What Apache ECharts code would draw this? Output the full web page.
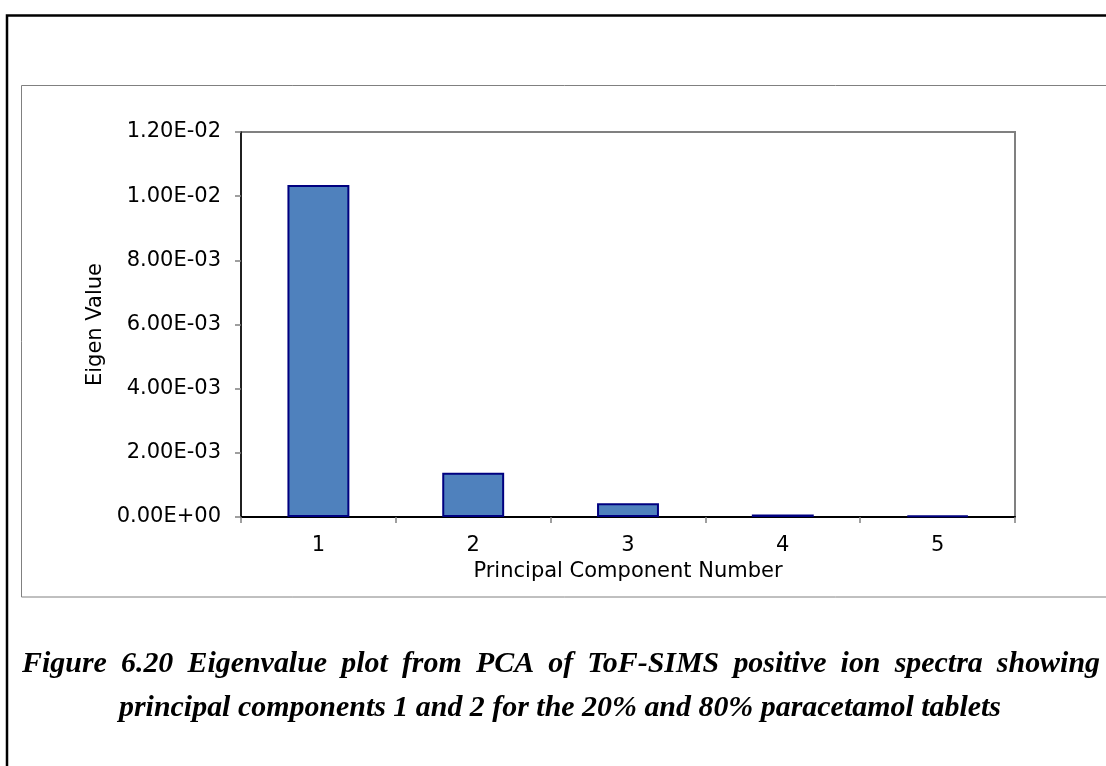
<!DOCTYPE html>
<html>
<head>
<meta charset="utf-8">
<script src="https://cdn.jsdelivr.net/npm/echarts@6/dist/echarts.min.js"></script>
<style>
  html, body { margin: 0; padding: 0; background: #ffffff; }
  #chart { width: 1106px; height: 766px; }
</style>
</head>
<body>
<div id="chart"></div>
<script>
// Principal component numbers and their eigenvalues
const components = ['1', '2', '3', '4', '5'];
const eigenValues = [0.01035, 0.00138, 0.00043, 0.00008, 0.00004];

// Value axis range
const yMin = 0;
const yMax = 0.012;
const yStep = 0.002;

const xAxisTitle = 'Principal Component Number';
const yAxisTitle = 'Eigen Value';
const captionLines = [
  'Figure 6.20 Eigenvalue plot from PCA of ToF-SIMS positive ion spectra showing',
  'principal components 1 and 2 for the 20% and 80% paracetamol tablets'
];

// Scientific notation in the spreadsheet style: 1.20E-02, 0.00E+00
function sci(v) {
  const parts = Number(v).toExponential(2).split('e');
  const exp = parseInt(parts[1], 10);
  const sign = exp < 0 ? '-' : '+';
  const digits = String(Math.abs(exp)).padStart(2, '0');
  return parts[0] + 'E' + sign + digits;
}

const sans = '"DejaVu Sans", "Liberation Sans", Arial, sans-serif';
const serif = '"Liberation Serif", "Times New Roman", serif';
const captionSize = 28.5;
const captionWiden = 1.05;
const captionFont = 'italic bold ' + captionSize + 'px ' + serif;

const captionStyle = {
  fontFamily: serif,
  fontStyle: 'italic',
  fontWeight: 'bold',
  fontSize: captionSize,
  fill: '#000000',
  verticalAlign: 'middle'
};

// First caption line is justified between two margins: words are measured
// (with a slight horizontal widening) and the leftover width is shared
// out between the gaps.
function justifiedLine(text, x0, x1, y) {
  const ctx = document.createElement('canvas').getContext('2d');
  ctx.font = captionFont;
  const words = text.split(' ');
  const widths = words.map(w => ctx.measureText(w).width * captionWiden);
  const total = widths.reduce((a, b) => a + b, 0);
  const gap = (x1 - x0 - total) / (words.length - 1);
  const items = [];
  let x = x0;
  words.forEach((w, i) => {
    items.push({
      type: 'text',
      silent: true,
      x: x,
      y: y,
      scaleX: captionWiden,
      style: Object.assign({ text: w, align: 'left' }, captionStyle)
    });
    x += widths[i] + gap;
  });
  return items;
}

// Last caption line, centred
function centredLine(text, cx, y) {
  return {
    type: 'text',
    silent: true,
    x: cx,
    y: y,
    scaleX: captionWiden,
    style: Object.assign({ text: text, align: 'center' }, captionStyle)
  };
}

const chart = echarts.init(document.getElementById('chart'), null, { renderer: 'canvas' });

chart.setOption({
  backgroundColor: '#ffffff',
  animation: false,
  grid: {
    left: 241,
    top: 132,
    width: 774,
    height: 385,
    show: true,
    borderColor: '#808080',
    borderWidth: 2,
    backgroundColor: 'transparent'
  },
  xAxis: {
    type: 'category',
    data: components,
    boundaryGap: true,
    name: xAxisTitle,
    nameLocation: 'middle',
    nameGap: 41,
    nameTextStyle: { fontFamily: sans, fontSize: 21, color: '#000000' },
    axisLine: { show: true, lineStyle: { color: '#000000', width: 2 } },
    axisTick: { show: true, inside: false, length: 6, alignWithLabel: false, lineStyle: { color: '#808080', width: 1.5 } },
    axisLabel: { fontFamily: sans, fontSize: 21, color: '#000000', margin: 18 },
    splitLine: { show: false }
  },
  yAxis: {
    type: 'value',
    min: yMin,
    max: yMax,
    interval: yStep,
    name: yAxisTitle,
    nameLocation: 'middle',
    nameGap: 134,
    nameRotate: 90,
    nameTextStyle: { fontFamily: sans, fontSize: 21, color: '#000000' },
    axisLine: { show: true, lineStyle: { color: '#000000', width: 1.5 } },
    axisTick: { show: true, inside: false, length: 6, lineStyle: { color: '#808080', width: 1.5 } },
    axisLabel: { fontFamily: sans, fontSize: 21, color: '#000000', margin: 20, formatter: sci },
    splitLine: { show: false }
  },
  series: [{
    type: 'bar',
    data: eigenValues,
    barWidth: '40%',
    itemStyle: { color: '#4F81BD', borderColor: '#000080', borderWidth: 2 }
  }],
  graphic: [
    {
      type: 'rect',
      silent: true,
      shape: { x: 7, y: 15.5, width: 1300, height: 900 },
      style: { fill: 'none', stroke: '#000000', lineWidth: 2.5 }
    },
    {
      type: 'rect',
      silent: true,
      shape: { x: 21.5, y: 85.5, width: 1300, height: 511.5 },
      style: { fill: 'none', stroke: '#808080', lineWidth: 1 }
    }
  ].concat(
    justifiedLine(captionLines[0], 22, 1100, 665),
    [centredLine(captionLines[1], 560, 709)]
  )
});
</script>
</body>
</html>
